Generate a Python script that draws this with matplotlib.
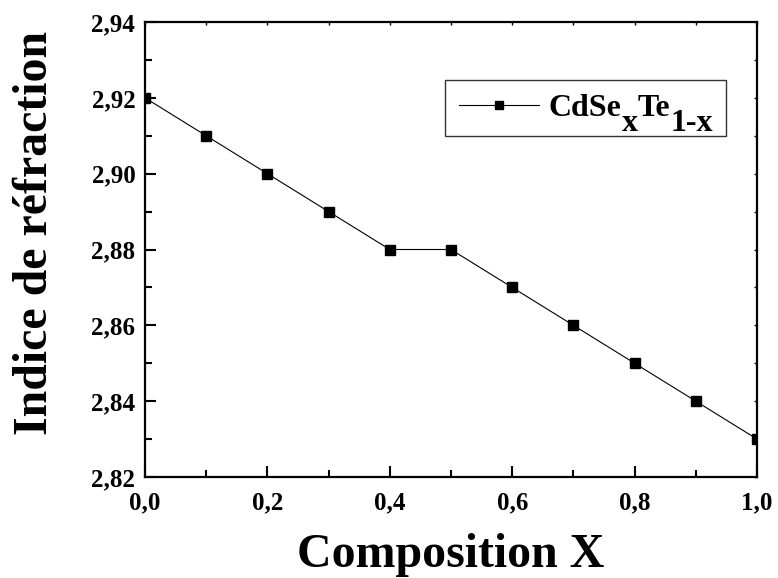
import matplotlib
matplotlib.use("Agg")
import matplotlib.pyplot as plt
from matplotlib.ticker import MultipleLocator, FuncFormatter
from matplotlib.offsetbox import TextArea, HPacker, DrawingArea
from matplotlib.text import Text

# Composition x of CdSe_x Te_(1-x) and its refractive index
composition = [0.0, 0.1, 0.2, 0.3, 0.4, 0.5, 0.6, 0.7, 0.8, 0.9, 1.0]
refractive_index = [2.92, 2.91, 2.90, 2.89, 2.88, 2.88, 2.87, 2.86, 2.85, 2.84, 2.83]

SERIF = ['Liberation Serif', 'DejaVu Serif']
plt.rcParams['font.family'] = SERIF
plt.rcParams['font.weight'] = 'bold'

fig = plt.figure(figsize=(7.78, 5.78), dpi=100)
ax = fig.add_axes([145/778, 1 - 477/578, (757 - 145)/778, (477 - 22)/578])

line, = ax.plot(composition, refractive_index, color='black', linewidth=0.8,
                marker='s', markersize=7.0, markerfacecolor='black',
                markeredgecolor='black')

ax.set_xlim(0.0, 1.0)
ax.set_ylim(2.82, 2.94)

ax.xaxis.set_major_locator(MultipleLocator(0.2))
ax.xaxis.set_minor_locator(MultipleLocator(0.1))
ax.yaxis.set_major_locator(MultipleLocator(0.02))
ax.yaxis.set_minor_locator(MultipleLocator(0.01))

comma = lambda fmt: FuncFormatter(lambda v, p: (fmt % v).replace('.', ','))
ax.xaxis.set_major_formatter(comma('%.1f'))
ax.yaxis.set_major_formatter(comma('%.2f'))

ax.tick_params(which='major', direction='in', length=8, width=1.5,
               labelsize=18, top=False, right=False)
ax.tick_params(which='minor', direction='in', length=5, width=1.5,
               top=False, right=False)
ax.tick_params(axis='x', which='major', pad=10)
ax.tick_params(axis='y', which='major', pad=7)

# short ticks along the top and right edges
sec_x = ax.secondary_xaxis('top')
sec_x.xaxis.set_major_locator(MultipleLocator(0.1))
sec_x.tick_params(direction='in', length=2, width=1.0, labeltop=False)
sec_x.spines['top'].set_visible(False)
sec_y = ax.secondary_yaxis('right')
sec_y.yaxis.set_major_locator(MultipleLocator(0.01))
sec_y.tick_params(direction='in', length=2, width=1.0, labelright=False)
sec_y.spines['right'].set_visible(False)

for s in ax.spines.values():
    s.set_linewidth(1.6)

for lbl in ax.get_xticklabels() + ax.get_yticklabels():
    lbl.set_fontweight('bold')

ax.set_xlabel('Composition X', fontsize=34.5, fontweight='bold')
ax.set_ylabel('Indice de réfraction', fontsize=34.5, fontweight='bold')
ax.xaxis.set_label_coords(0.5, -0.123)
ax.yaxis.set_label_coords(-0.144, 0.536)

# legend: sample line with marker, formula label with full-size subscripts
LEG_FS = 23
leg = ax.legend(handles=[line], labels=['CdSexTe1-x'],
                loc='upper right', bbox_to_anchor=(726/778, 1 - 80/578),
                bbox_transform=fig.transFigure, borderaxespad=0,
                fontsize=LEG_FS, frameon=True, fancybox=False,
                edgecolor='black', handlelength=2.5, handletextpad=0.31,
                markerscale=0.85, borderpad=0.42)
leg.get_frame().set_linewidth(1.0)

tp = dict(fontsize=LEG_FS, fontweight='bold', family=SERIF)
drop = 10.8  # points the subscripts sit below the main baseline
renderer = fig.canvas.get_renderer()
px_per_pt = renderer.points_to_pixels(1.0)


def main_part(s):
    return TextArea(s, textprops=tp)


def sub_part(s):
    probe = TextArea(s, textprops=tp)
    probe.set_figure(fig)
    w = probe.get_bbox(renderer).width / px_per_pt
    area = DrawingArea(w, 1, 0, 0, clip=False)
    area.add_artist(Text(0, -drop, s, va='baseline', ha='left', **tp))
    return area


formula = HPacker(children=[main_part('CdSe'), sub_part('x'),
                            main_part('Te'), sub_part('1-x')],
                  pad=0, sep=0, align='baseline')
item = leg._legend_handle_box.get_children()[0].get_children()[0]
item.get_children()[1] = formula
formula.set_figure(fig)

fig.savefig('out.png', dpi=100)
